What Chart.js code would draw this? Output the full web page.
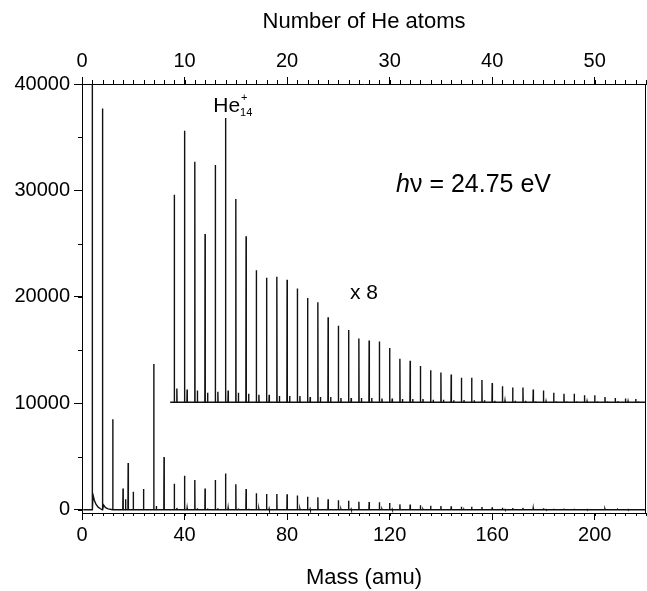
<!DOCTYPE html>
<html>
<head>
<meta charset="utf-8">
<script src="https://cdn.jsdelivr.net/npm/chart.js@4.4.0/dist/chart.umd.min.js"></script>
<style>
  html, body { margin: 0; padding: 0; background: #fff; }
  #wrap { width: 647px; height: 591px; }
</style>
</head>
<body>
<div id="wrap"><canvas id="spec"></canvas></div>
<script>
/* He cluster mass spectrum, hv = 24.75 eV */

// He_n cluster peaks, n = 9 .. 54
const clusterMass = [36,40,44,48,52,56,60,64,68,72,76,80,84,88,92,96,100,104,108,112,116,120,
  124,128,132,136,140,144,148,152,156,160,164,168,172,176,180,184,188,192,196,200,204,208,212,216];

// upper trace (x 8, offset to 10000)
const upperPeak = [29600,35600,32700,25900,32400,36800,29200,25700,22500,21800,21900,21600,20800,
  19900,19500,18100,17300,16900,16100,15900,15800,15200,14200,14000,13500,13100,12900,12700,12400,
  12400,12200,11900,11600,11500,11500,11300,11200,11000,10900,10900,10750,10750,10600,10500,10450,10400];
const upperSat = [11400,11300,11200,11000,11100,11200,11000,10900,10800,10800,10700,10700,10700,10600,
  10600,10600,10500,10500,10500,10500,10450,10450,10400,10400,10400,10350,10350,10300,10300,10300,
  10300,10250,10250,10250,10250,10200,10200,10200,10200,10200,10200,10200,10200,10200,10200,10200];
const upperBase = 10100;
const upperStart = 34.4;

// lower trace (raw counts)
const lowerPeak = [2450,3200,2800,2000,2800,3400,2400,1950,1550,1480,1480,1450,1340,1220,1180,1000,
  900,850,750,730,710,640,510,490,430,380,350,330,290,290,260,230,190,180,180,150,140,110,100,100,
  80,80,60,50,40,40];
const lowerSat = [180,160,150,120,140,170,120,100,90,90,80,80,80,70,70,70,60,60,60,60,50,50,40,40,
  40,40,40,30,30,30,30,30,30,30,30,20,20,20,20,20,20,20,20,20,20,20];
const lowMass = [4, 8, 12, 16, 17, 18, 20, 24, 28, 29, 32];
const lowHeight = [48000, 37700, 8500, 2000, 1000, 4400, 1700, 1950, 13700, 350, 4950];
const tailMass = [4.3, 4.8, 5.5, 6.3, 7.2, 8.4, 9.2, 10.2];
const tailValue = [1400, 900, 500, 250, 100, 450, 200, 80];
const lowerBase = 0;
const lowerStart = 0.5;

const massMax = 220;
const yTicks = [0, 10000, 20000, 30000, 40000];

const FONT = '"Liberation Sans", Arial, Helvetica, sans-serif';

function trace(base, start, masses, heights, extraX = [], extraY = []) {
  const pts = [{x: start, y: base}, {x: massMax, y: base}];
  masses.forEach((m, i) => {
    pts.push({x: m - 0.08, y: base}, {x: m, y: heights[i]}, {x: m + 0.08, y: base});
  });
  extraX.forEach((m, i) => pts.push({x: m, y: extraY[i]}));
  return pts.sort((a, b) => a.x - b.x);
}

const satMass = clusterMass.map(m => m + 1);
const upperData = trace(upperBase, upperStart,
  clusterMass.concat(satMass), upperPeak.concat(upperSat));
const lowerData = trace(lowerBase, lowerStart,
  lowMass.concat(clusterMass, satMass), lowHeight.concat(lowerPeak, lowerSat),
  tailMass, tailValue);

// minor ticks, right frame line, text labels
const extras = {
  id: 'extras',
  afterDraw(chart, args, opts) {
    const ctx = chart.ctx;
    const ca = chart.chartArea;
    ctx.save();
    ctx.strokeStyle = '#000';
    ctx.lineWidth = 1;
    ctx.beginPath();
    for (const id in opts.minor) {
      const {step, len} = opts.minor[id];
      const s = chart.scales[id];
      for (let v = Math.ceil(s.min / step) * step; v <= s.max + 1e-6; v += step) {
        const p = Math.round(s.getPixelForValue(v)) + 0.5;
        if (s.position === 'bottom') { ctx.moveTo(p, s.top); ctx.lineTo(p, s.top + len); }
        else if (s.position === 'top') { ctx.moveTo(p, s.bottom); ctx.lineTo(p, s.bottom - len); }
        else { ctx.moveTo(s.right, p); ctx.lineTo(s.right - len, p); }
      }
    }
    ctx.moveTo(ca.right - 0.5, ca.top);
    ctx.lineTo(ca.right - 0.5, ca.bottom);
    ctx.stroke();

    const xs = chart.scales.x, ys = chart.scales.y;
    ctx.fillStyle = '#000';
    ctx.textBaseline = 'alphabetic';

    // He14+
    let x = xs.getPixelForValue(opts.heLabel.x), y = ys.getPixelForValue(opts.heLabel.y);
    ctx.font = '21px ' + FONT;
    ctx.fillText('He', x, y);
    const w = ctx.measureText('He').width;
    ctx.font = '11px ' + FONT;
    ctx.fillText('14', x + w, y + 4);
    ctx.fillText('+', x + w + 1, y - 11);

    // h nu = 24.75 eV
    x = xs.getPixelForValue(opts.hvLabel.x); y = ys.getPixelForValue(opts.hvLabel.y);
    ctx.font = 'italic 25px ' + FONT;
    ctx.fillText('h', x, y);
    const hw = ctx.measureText('h').width;
    ctx.font = '25px ' + FONT;
    ctx.fillText('\u03bd = 24.75 eV', x + hw, y);

    // x 8
    x = xs.getPixelForValue(opts.x8Label.x); y = ys.getPixelForValue(opts.x8Label.y);
    ctx.font = '21px ' + FONT;
    ctx.fillText('x 8', x, y);
    ctx.restore();
  }
};

const tickFont = {family: FONT, size: 20};
const titleFont = {family: FONT, size: 22};

new Chart(document.getElementById('spec'), {
  type: 'line',
  data: {
    datasets: [
      {data: upperData, borderColor: '#111', borderWidth: 1.4, pointRadius: 0, tension: 0},
      {data: lowerData, borderColor: '#111', borderWidth: 1.4, pointRadius: 0, tension: 0}
    ]
  },
  options: {
    responsive: true,
    maintainAspectRatio: false,
    animation: false,
    layout: {padding: {right: 1}},
    plugins: {
      legend: {display: false},
      tooltip: {enabled: false},
      extras: {
        minor: {
          x: {step: 4, len: 3},
          x2: {step: 1, len: 4},
          y: {step: 5000, len: 4}
        },
        heLabel: {x: 51.2, y: 37400},
        hvLabel: {x: 122.5, y: 29900},
        x8Label: {x: 104.5, y: 19800}
      }
    },
    scales: {
      x: {
        type: 'linear', position: 'bottom', min: 0, max: massMax,
        ticks: {stepSize: 40, includeBounds: false, color: '#000', font: tickFont, padding: 3,
          maxRotation: 0, callback: v => String(v)},
        grid: {drawOnChartArea: false, tickLength: 7, color: '#000'},
        border: {color: '#000', width: 1},
        title: {display: true, text: 'Mass (amu)', color: '#000', font: titleFont, padding: {top: 0, bottom: 0}},
        afterFit: s => { s.height = 78; }
      },
      x2: {
        type: 'linear', position: 'top', min: 0, max: 55,
        ticks: {stepSize: 10, includeBounds: false, color: '#000', font: tickFont, padding: 4,
          maxRotation: 0, callback: v => String(v)},
        grid: {drawOnChartArea: false, tickLength: 7, color: '#000'},
        border: {color: '#000', width: 1},
        title: {display: true, text: 'Number of He atoms', color: '#000', font: titleFont, padding: {top: 9, bottom: 0}},
        afterFit: s => { s.height = 84; }
      },
      y: {
        type: 'linear', position: 'left', min: -300, max: 40000,
        afterBuildTicks: s => { s.ticks = yTicks.map(v => ({value: v})); },
        ticks: {color: '#000', font: tickFont, padding: 4, callback: v => String(v)},
        grid: {drawOnChartArea: false, tickLength: 8, color: '#000'},
        border: {color: '#000', width: 1},
        afterFit: s => { s.width = 82; }
      }
    }
  },
  plugins: [extras]
});
</script>
</body>
</html>
